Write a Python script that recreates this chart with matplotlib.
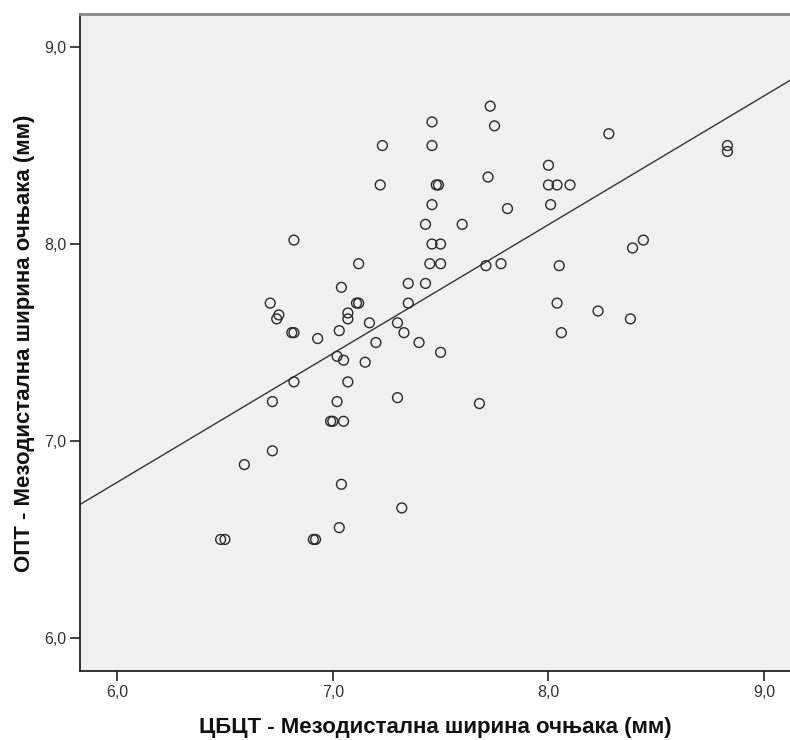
import numpy as np
import matplotlib
matplotlib.use("Agg")
import matplotlib.pyplot as plt

plt.rcParams['font.family'] = ['Liberation Sans', 'DejaVu Sans']

# CBCT mesiodistal canine width (x) vs. OPT (y)
cbct = [7.46, 7.23, 7.46, 7.22, 7.48, 7.49, 7.46, 7.43, 7.60, 6.82,
        7.46, 7.50, 7.12, 7.45, 7.50, 7.04, 7.35, 7.43, 6.71, 6.75,
        6.74, 7.11, 7.12, 7.35, 6.81, 6.82, 6.93, 7.07, 7.07, 7.03,
        7.17, 7.30, 7.33, 7.20, 7.40, 7.50, 7.02, 7.05, 7.15, 6.82,
        7.07, 6.72, 7.02, 7.30, 6.99, 7.00, 7.05, 6.72, 6.59, 7.04,
        7.32, 7.03, 6.48, 6.50, 6.91, 6.92, 7.73, 7.75, 8.28, 8.83,
        8.83, 7.72, 8.00, 8.00, 8.04, 8.10, 8.01, 7.81, 8.39, 8.44,
        7.71, 7.78, 8.05, 8.04, 8.23, 8.38, 8.06, 7.68]
opt = [8.62, 8.50, 8.50, 8.30, 8.30, 8.30, 8.20, 8.10, 8.10, 8.02,
       8.00, 8.00, 7.90, 7.90, 7.90, 7.78, 7.80, 7.80, 7.70, 7.64,
       7.62, 7.70, 7.70, 7.70, 7.55, 7.55, 7.52, 7.65, 7.62, 7.56,
       7.60, 7.60, 7.55, 7.50, 7.50, 7.45, 7.43, 7.41, 7.40, 7.30,
       7.30, 7.20, 7.20, 7.22, 7.10, 7.10, 7.10, 6.95, 6.88, 6.78,
       6.66, 6.56, 6.50, 6.50, 6.50, 6.50, 8.70, 8.60, 8.56, 8.50,
       8.47, 8.34, 8.40, 8.30, 8.30, 8.30, 8.20, 8.18, 7.98, 8.02,
       7.89, 7.90, 7.89, 7.70, 7.66, 7.62, 7.55, 7.19]

x_ticks = [6.0, 7.0, 8.0, 9.0]
y_ticks = [6.0, 7.0, 8.0, 9.0]
x_label = "ЦБЦТ - Мезодистална ширина очњака (мм)"
y_label = "ОПТ - Мезодистална ширина очњака (мм)"

fig = plt.figure(figsize=(7.9, 7.4), dpi=100)
ax = fig.add_axes([80/790, 69/740, 710/790, 657/740])
ax.set_facecolor('#f0f0f0')

ax.scatter(cbct, opt, s=50, facecolors='none', edgecolors='#2a2a2a',
           linewidths=1.0, zorder=3)

xlim = (5.828, 9.12)
slope, intercept = np.polyfit(cbct, opt, 1)
xs = np.array(xlim)
ax.plot(xs, intercept + slope * xs, color='#333333', lw=1.0, zorder=2)

ax.set_xlim(*xlim)
ax.set_ylim(5.832, 9.168)
ax.set_xticks(x_ticks)
ax.set_yticks(y_ticks)
ax.set_xticklabels([f"{v:.1f}".replace('.', ',') for v in x_ticks])
ax.set_yticklabels([f"{v:.1f}".replace('.', ',') for v in y_ticks])
ax.tick_params(direction='out', length=7, width=1.2, color='#222222',
               labelsize=11.5, labelcolor='#333333', pad=3)

for s in ('left', 'bottom'):
    ax.spines[s].set_color('#222222')
    ax.spines[s].set_linewidth(1.3)
ax.spines['top'].set_color('#888888')
ax.spines['top'].set_linewidth(2.0)
ax.spines['right'].set_visible(False)

fig.text(435/790, 1 - 728/740, x_label, fontsize=16, fontweight='bold',
         ha='center', va='center', color='#111111')
fig.text(25/790, 1 - 343/740, y_label, fontsize=16, fontweight='bold',
         ha='center', va='center', rotation=90, color='#111111')

fig.savefig('out.png', dpi=100)
